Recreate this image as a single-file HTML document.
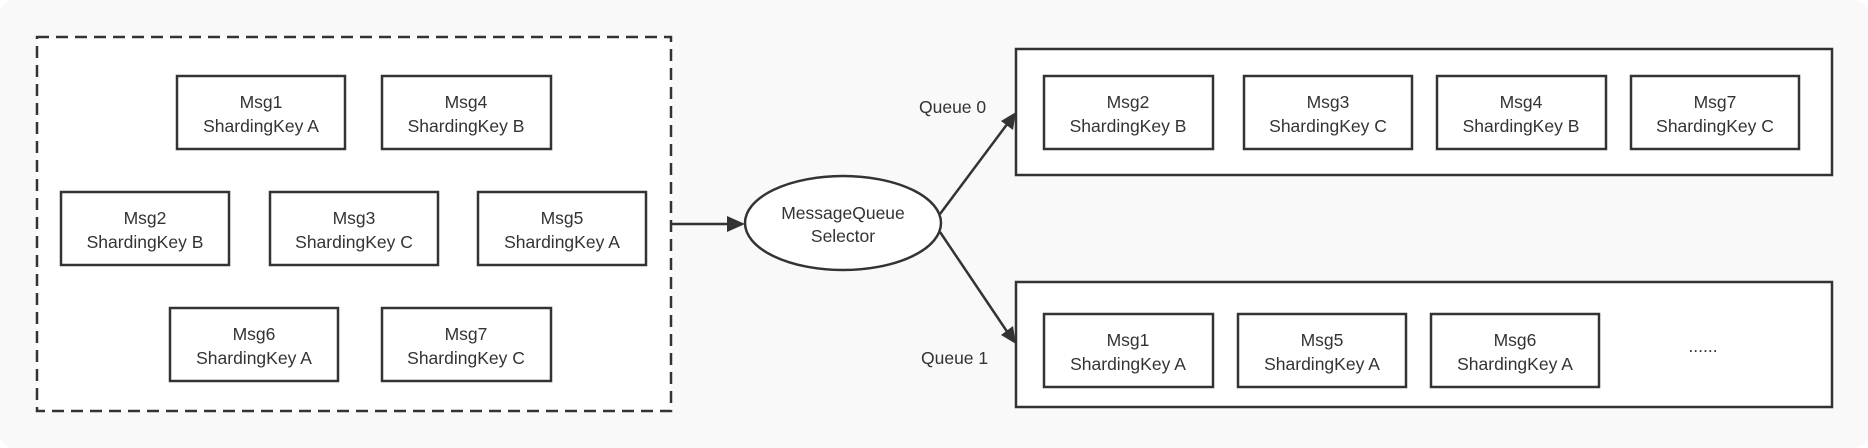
<!DOCTYPE html>
<html><head><style>
html,body{margin:0;padding:0;background:#fff;}
svg{display:block;}
text{font-family:"Liberation Sans",sans-serif;font-size:17.5px;fill:#333;}
</style></head><body>
<svg width="1868" height="448" viewBox="0 0 1868 448" xmlns="http://www.w3.org/2000/svg">
<defs><marker id="ah" markerWidth="10" markerHeight="10" refX="9" refY="5" orient="auto" markerUnits="userSpaceOnUse"><path d="M0,0 L10,5 L0,10 z" fill="#333" transform="scale(1.6) translate(-4,-2)"/></marker></defs>
<rect x="0" y="0" width="1868" height="448" rx="14" fill="#f9f9f9"/>
<rect x="37" y="37" width="634" height="374" fill="#fff" stroke="#333" stroke-width="2.5" stroke-dasharray="12,7"/>
<g fill="#fff" stroke="#333" stroke-width="2.5">
<rect x="177" y="76" width="168" height="73"/><rect x="382" y="76" width="169" height="73"/>
<rect x="61" y="192" width="168" height="73"/><rect x="270" y="192" width="168" height="73"/><rect x="478" y="192" width="168" height="73"/>
<rect x="170" y="308" width="168" height="73"/><rect x="382" y="308" width="169" height="73"/>
<rect x="1016" y="49" width="816" height="126"/><rect x="1016" y="282" width="816" height="125"/>
<rect x="1044" y="76" width="169" height="73"/><rect x="1244" y="76" width="168" height="73"/><rect x="1437" y="76" width="169" height="73"/><rect x="1631" y="76" width="168" height="73"/>
<rect x="1044" y="314" width="169" height="73"/><rect x="1238" y="314" width="168" height="73"/><rect x="1431" y="314" width="168" height="73"/>
<ellipse cx="843" cy="223" rx="98" ry="47"/>
</g>
<g stroke="#333" stroke-width="2.5" fill="none">
<line x1="671" y1="224" x2="735" y2="224"/>
<line x1="940" y1="214" x2="1008" y2="123"/>
<line x1="940" y1="232" x2="1008" y2="333"/>
</g>
<g fill="#333">
<polygon points="745,224 727,216 727,232"/>
<polygon points="1016,112 1001,121 1013,130"/>
<polygon points="1016,344 1013,326 1001,335"/>
</g>
<g text-anchor="middle">
<text x="261" y="108">Msg1</text><text x="261" y="132">ShardingKey A</text>
<text x="466" y="108">Msg4</text><text x="466" y="132">ShardingKey B</text>
<text x="145" y="224">Msg2</text><text x="145" y="248">ShardingKey B</text>
<text x="354" y="224">Msg3</text><text x="354" y="248">ShardingKey C</text>
<text x="562" y="224">Msg5</text><text x="562" y="248">ShardingKey A</text>
<text x="254" y="340">Msg6</text><text x="254" y="364">ShardingKey A</text>
<text x="466" y="340">Msg7</text><text x="466" y="364">ShardingKey C</text>
<text x="843" y="219">MessageQueue</text><text x="843" y="242">Selector</text>
<text x="1128" y="108">Msg2</text><text x="1128" y="132">ShardingKey B</text>
<text x="1328" y="108">Msg3</text><text x="1328" y="132">ShardingKey C</text>
<text x="1521" y="108">Msg4</text><text x="1521" y="132">ShardingKey B</text>
<text x="1715" y="108">Msg7</text><text x="1715" y="132">ShardingKey C</text>
<text x="1128" y="346">Msg1</text><text x="1128" y="370">ShardingKey A</text>
<text x="1322" y="346">Msg5</text><text x="1322" y="370">ShardingKey A</text>
<text x="1515" y="346">Msg6</text><text x="1515" y="370">ShardingKey A</text>
<text x="1703" y="352">......</text>
</g>
<text x="919" y="113">Queue 0</text>
<text x="921" y="364">Queue 1</text>
</svg>
</body></html>
